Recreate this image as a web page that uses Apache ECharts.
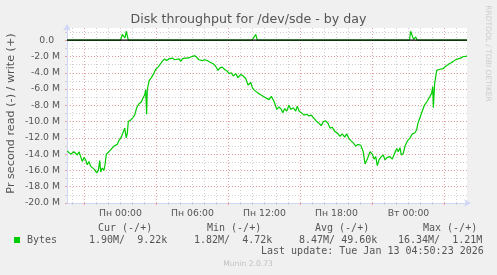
<!DOCTYPE html>
<html><head><meta charset="utf-8">
<script src="https://cdn.jsdelivr.net/npm/echarts@6/dist/echarts.min.js"></script>
<style>html,body{margin:0;padding:0;background:#f0f0f0}#c{width:497px;height:275px}</style>
</head><body><div id="c"></div>
<script>
// time in hours relative to Monday 00:00
const timeStart = -4.458;
const timeEnd = 28.875;

// read throughput (MB/s), plotted as negative
const readTimes = [-4.45,-4.15,-3.88,-3.60,-3.46,-3.32,-3.18,-3.04,-2.90,-2.77,-2.63,-2.48,-2.35,-2.15,-1.98,-1.85,-1.73,-1.65,-1.52,-1.38,-1.29,-1.18,-0.96,-0.82,-0.54,-0.27,-0.13,0.07,0.23,0.35,0.48,0.57,0.65,0.85,1.04,1.18,1.35,1.54,1.73,1.88,2.02,2.10,2.18,2.23,2.38,2.57,2.73,2.93,3.13,3.29,3.48,3.68,3.85,4.04,4.18,4.32,4.52,4.68,4.88,5.02,5.15,5.35,5.57,5.79,5.98,6.18,6.35,6.54,6.68,6.82,7.02,7.23,7.46,7.73,7.93,8.13,8.29,8.48,8.68,8.90,9.04,9.23,9.40,9.60,9.79,10.02,10.23,10.43,10.63,10.85,10.98,11.13,11.27,11.46,11.68,11.82,12.02,12.18,12.38,12.57,12.79,13.02,13.21,13.40,13.52,13.68,13.85,14.04,14.18,14.40,14.60,14.73,14.88,15.07,15.29,15.52,15.71,15.90,16.13,16.35,16.54,16.73,16.90,17.10,17.29,17.46,17.65,17.85,18.07,18.29,18.48,18.68,18.85,19.04,19.23,19.40,19.60,19.79,20.02,20.21,20.38,20.57,20.79,20.98,21.13,21.27,21.40,21.54,21.73,21.90,22.04,22.23,22.46,22.65,22.85,23.02,23.15,23.29,23.40,23.57,23.71,23.90,24.13,24.32,24.52,24.68,24.79,24.96,25.15,25.35,25.52,25.65,25.79,25.93,26.02,26.07,26.18,26.35,26.54,26.68,26.88,27.10,27.29,27.52,27.73,27.93,28.13,28.35,28.57,28.77,28.87];
const readValues = [13.6,14.0,13.7,14.1,13.7,14.3,14.9,14.4,14.7,15.3,14.9,15.5,15.3,15.9,16.3,16.0,14.8,16.2,15.7,16.0,15.3,14.0,13.7,13.5,13.0,12.8,12.3,11.9,12.0,10.8,12.0,11.4,10.0,9.8,9.5,9.2,8.3,7.8,7.6,7.1,6.7,6.1,9.1,6.1,5.0,4.6,4.2,3.6,3.3,3.1,2.6,2.3,2.5,2.3,2.5,2.2,2.4,2.4,2.3,2.6,2.3,2.2,2.2,2.1,2.0,1.9,2.1,2.4,2.2,2.5,2.4,2.5,2.7,2.9,3.2,3.7,3.4,3.3,3.6,3.8,4.1,4.0,4.4,4.1,4.6,4.2,4.4,4.7,5.5,5.2,5.8,6.1,5.9,6.5,6.7,6.9,7.0,6.9,7.3,6.9,7.5,8.5,8.2,8.5,8.9,8.4,8.7,8.0,8.5,8.3,8.7,8.1,8.7,8.9,9.2,9.1,9.3,9.2,9.6,10.0,10.2,10.5,10.0,9.9,10.2,10.8,10.7,11.2,11.4,11.8,11.5,11.9,11.5,12.1,12.4,12.6,13.0,12.8,12.9,13.6,15.2,14.6,13.7,14.0,14.6,14.3,15.4,14.7,14.3,14.1,14.7,14.4,14.3,14.6,13.9,13.3,13.7,13.2,14.1,13.9,13.0,12.4,12.0,11.5,11.4,11.0,10.2,9.5,8.7,7.9,7.6,7.7,6.9,6.5,5.7,8.3,5.3,3.7,3.6,3.8,3.5,3.2,3.0,2.8,2.6,2.4,2.3,2.2,2.0,2.0,1.9];

// write throughput (MB/s), plotted as positive
const writeTimes = [-4.45,0.00,0.07,0.15,0.29,0.38,0.48,0.57,0.65,10.98,11.13,11.27,11.40,24.08,24.18,24.27,24.42,24.46,24.60,24.73,28.87];
const writeValues = [0,0,0.3,0.7,0.7,0.3,1.1,1.2,0,0,0.4,0.7,0,0,1.1,0.9,0.1,0,0.4,0,0];

const xLabelHours = [0, 6, 12, 18, 24];
const xLabelTexts = ['Пн 00:00', 'Пн 06:00', 'Пн 12:00', 'Пн 18:00', 'Вт 00:00'];
const xMajorHours = [-3, 3, 9, 15, 21, 27];
const xMinorHours = [-4,-2,-1,0,1,2,4,5,6,7,8,10,11,12,13,14,16,17,18,19,20,22,23,24,25,26,28];

const yMin = -20, yMax = 1.5;
const yLabelValues = [-20,-18,-16,-14,-12,-10,-8,-6,-4,-2,0];
const yLabelTexts = ['-20.0 M','-18.0 M','-16.0 M','-14.0 M','-12.0 M','-10.0 M','-8.0 M','-6.0 M','-4.0 M','-2.0 M','0.0  '];
const yMinorValues = [-19,-17,-15,-13,-11,-9,-7,-5,-3,-1,1];

const chartTitle = 'Disk throughput for /dev/sde - by day';
const yTitle = 'Pr second read (-) / write (+)';
const legendName = 'Bytes';
const legendHeaders = ['Cur (-/+)', 'Min (-/+)', 'Avg (-/+)', 'Max (-/+)'];
const legendRead = ['1.90M', '1.82M', '8.47M', '16.34M'];
const legendWrite = ['9.22k', '4.72k', '49.60k', '1.21M'];
const lastUpdate = 'Last update: Tue Jan 13 04:50:23 2026';
const footer = 'Munin 2.0.73';
const watermark = 'RRDTOOL / TOBI OETIKER';

const GREEN = '#00cc00';
const TXT = '#555555';
const AXISC = '#cfd6f8';
const GRAYG = '#cfcfcf';
const REDG = '#e4a0a0';
const dash = [1, 2];

function findLabel(v, vals, texts) {
  for (let i = 0; i < vals.length; i++) if (Math.abs(vals[i] - v) < 1e-6) return texts[i];
  return '';
}

const chart = echarts.init(document.getElementById('c'), null, {renderer: 'canvas'});

const hiddenAxisBase = {
  axisLine: {show: false, onZero: false},
  axisLabel: {show: false}
};

const legendX = [[98, 89], [207, 194], [315, 299], [423, 398]];
const graphics = [
  {type: 'text', style: {x: 248.5, y: 19.5, text: chartTitle, textAlign: 'center', textVerticalAlign: 'middle', align: 'center', verticalAlign: 'middle', font: '12.6px "DejaVu Sans"', fill: TXT}},
  {type: 'text', x: 10.8, y: 113.5, rotation: Math.PI / 2, style: {x: 0, y: 0, text: yTitle, textAlign: 'center', textVerticalAlign: 'middle', align: 'center', verticalAlign: 'middle', font: '11.2px "DejaVu Sans"', fill: TXT}},
  {type: 'text', x: 488, y: 53.5, rotation: -Math.PI / 2, style: {x: 0, y: 0, text: watermark, textAlign: 'center', textVerticalAlign: 'middle', align: 'center', verticalAlign: 'middle', font: '7.5px "DejaVu Sans"', fill: '#cccccc'}},
  {type: 'rect', shape: {x: 14, y: 237, width: 6, height: 6}, style: {fill: GREEN}},
  {type: 'text', style: {x: 27, y: 240, text: legendName, textAlign: 'left', textVerticalAlign: 'middle', align: 'left', verticalAlign: 'middle', font: '10px "DejaVu Sans Mono"', fill: TXT}},
  {type: 'text', style: {x: 261, y: 251.5, text: lastUpdate, textAlign: 'left', textVerticalAlign: 'middle', align: 'left', verticalAlign: 'middle', font: '10px "DejaVu Sans Mono"', fill: TXT}},
  {type: 'text', style: {x: 248, y: 264.5, text: footer, textAlign: 'center', textVerticalAlign: 'middle', align: 'center', verticalAlign: 'middle', font: '7.6px "DejaVu Sans"', fill: '#c0c0c0'}}
];
for (let i = 0; i < 4; i++) {
  graphics.push({type: 'text', style: {x: legendX[i][0], y: 228, text: legendHeaders[i], textAlign: 'left', textVerticalAlign: 'middle', align: 'left', verticalAlign: 'middle', font: '10px "DejaVu Sans Mono"', fill: TXT}});
  const w = legendWrite[i].padStart(6, ' ');
  graphics.push({type: 'text', style: {x: legendX[i][1], y: 240, text: legendRead[i] + '/ ' + w, textAlign: 'left', textVerticalAlign: 'middle', align: 'left', verticalAlign: 'middle', font: '10px "DejaVu Sans Mono"', fill: TXT}});
}

const option = {
  backgroundColor: '#f0f0f0',
  animation: false,
  grid: {left: 67, top: 28, width: 400, height: 175, show: true, backgroundColor: '#ffffff', borderWidth: 0, containLabel: false},
  xAxis: [
    {type: 'value', position: 'bottom', min: timeStart, max: timeEnd,
      axisLine: {show: true, onZero: false, lineStyle: {color: AXISC, width: 1}, symbol: ['none', 'arrow'], symbolSize: [6, 7], symbolOffset: [0, 4]},
      axisTick: {show: false},
      splitLine: {show: false},
      axisLabel: {show: true, customValues: xLabelHours, margin: 6, color: TXT, fontFamily: 'DejaVu Sans', fontSize: 9.3,
        formatter: v => findLabel(v, xLabelHours, xLabelTexts)}},
    Object.assign({type: 'value', position: 'bottom', min: timeStart, max: timeEnd,
      axisTick: {show: true, customValues: xMinorHours, length: 2, lineStyle: {color: GRAYG}},
      splitLine: {show: true, lineStyle: {color: GRAYG, width: 1, type: dash}}}, hiddenAxisBase),
    Object.assign({type: 'value', position: 'bottom', min: timeStart, max: timeEnd,
      axisTick: {show: true, customValues: xMajorHours, length: 2, lineStyle: {color: REDG}},
      splitLine: {show: true, lineStyle: {color: REDG, width: 1, type: dash}}}, hiddenAxisBase)
  ],
  yAxis: [
    {type: 'value', position: 'left', min: yMin, max: yMax,
      axisLine: {show: true, onZero: false, lineStyle: {color: AXISC, width: 1}, symbol: ['none', 'arrow'], symbolSize: [6, 7], symbolOffset: [0, 4]},
      axisTick: {show: false},
      splitLine: {show: false},
      axisLabel: {show: true, customValues: yLabelValues, margin: 7, color: TXT, fontFamily: 'DejaVu Sans', fontSize: 9.3,
        formatter: v => findLabel(v, yLabelValues, yLabelTexts)}},
    Object.assign({type: 'value', position: 'left', min: yMin, max: yMax,
      axisTick: {show: true, customValues: yMinorValues, length: 2, lineStyle: {color: GRAYG}},
      splitLine: {show: true, lineStyle: {color: GRAYG, width: 1, type: dash}}}, hiddenAxisBase),
    Object.assign({type: 'value', position: 'left', min: yMin, max: yMax,
      axisTick: {show: true, customValues: yLabelValues, length: 2, lineStyle: {color: REDG}},
      splitLine: {show: true, lineStyle: {color: REDG, width: 1, type: dash}}}, hiddenAxisBase)
  ],
  series: [
    {type: 'line', name: 'read', xAxisIndex: 0, yAxisIndex: 0, symbol: 'none', showSymbol: false, z: 5,
      data: readTimes.map((t, i) => [t, -readValues[i]]),
      lineStyle: {color: GREEN, width: 1.2}, itemStyle: {color: GREEN}},
    {type: 'line', name: 'write', xAxisIndex: 0, yAxisIndex: 0, symbol: 'none', showSymbol: false, z: 5,
      data: writeTimes.map((t, i) => [t, writeValues[i]]),
      lineStyle: {color: GREEN, width: 1.2}, itemStyle: {color: GREEN}},
    {type: 'line', name: 'zero', xAxisIndex: 0, yAxisIndex: 0, symbol: 'none', showSymbol: false, z: 6,
      data: [[timeStart, 0], [timeEnd, 0]],
      lineStyle: {color: '#000000', width: 1.2}, itemStyle: {color: '#000'}}
  ],
  graphic: graphics
};
chart.setOption(option);
</script>
</body></html>
